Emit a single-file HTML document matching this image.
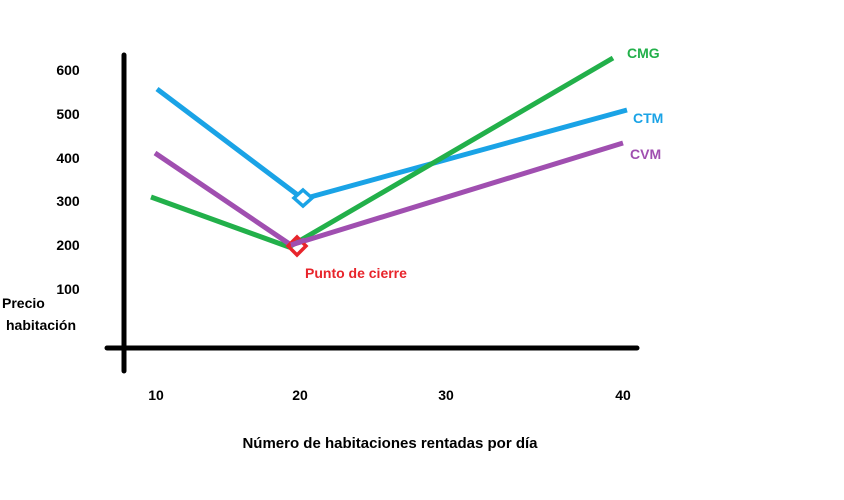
<!DOCTYPE html>
<html><head><meta charset="utf-8"><style>
html,body{margin:0;padding:0;background:#fff;}
svg{display:block}
text{font-family:"Liberation Sans",sans-serif;font-weight:bold;}
</style></head><body>
<svg width="844" height="500" viewBox="0 0 844 500" xmlns="http://www.w3.org/2000/svg">
<rect width="844" height="500" fill="#fff"/>
<line x1="124" y1="55" x2="124" y2="371" stroke="#000" stroke-width="5" stroke-linecap="round"/>
<line x1="107" y1="348" x2="637" y2="348" stroke="#000" stroke-width="5" stroke-linecap="round"/>
<g font-size="14" fill="#000" text-anchor="middle">
<text x="68" y="75">600</text>
<text x="68" y="119">500</text>
<text x="68" y="163">400</text>
<text x="68" y="206">300</text>
<text x="68" y="250">200</text>
<text x="68" y="294">100</text>
<text x="156" y="400">10</text>
<text x="300" y="400">20</text>
<text x="446" y="400">30</text>
<text x="623" y="400">40</text>
<text x="390" y="448" font-size="15">Número de habitaciones rentadas  por día</text>
</g>
<g font-size="14" fill="#000">
<text x="2" y="308">Precio</text>
<text x="6" y="330">habitación</text>
</g>
<polyline points="157,89 303,199 627,110" fill="none" stroke="#1aa3e6" stroke-width="5" stroke-linejoin="round"/>
<polyline points="151,197 289,247 613,58" fill="none" stroke="#22b04a" stroke-width="5" stroke-linejoin="round"/>
<polyline points="155,153 291,245 623,143" fill="none" stroke="#a04fb0" stroke-width="5" stroke-linejoin="round"/>
<polygon points="303,190 312,198 303,206 294,198" fill="#fff" stroke="#1aa3e6" stroke-width="3.5"/>
<polygon points="297,237 306,246 297,255 288,246" fill="none" stroke="#e8242b" stroke-width="3.5"/>
<line x1="291" y1="245" x2="305" y2="240" stroke="#a04fb0" stroke-width="5"/>
<text x="305" y="278" font-size="14" fill="#e8242b">Punto de cierre</text>
<text x="627" y="58" font-size="14" fill="#22b04a">CMG</text>
<text x="633" y="123" font-size="14" fill="#1aa3e6">CTM</text>
<text x="630" y="159" font-size="14" fill="#a04fb0">CVM</text>
</svg>
</body></html>
